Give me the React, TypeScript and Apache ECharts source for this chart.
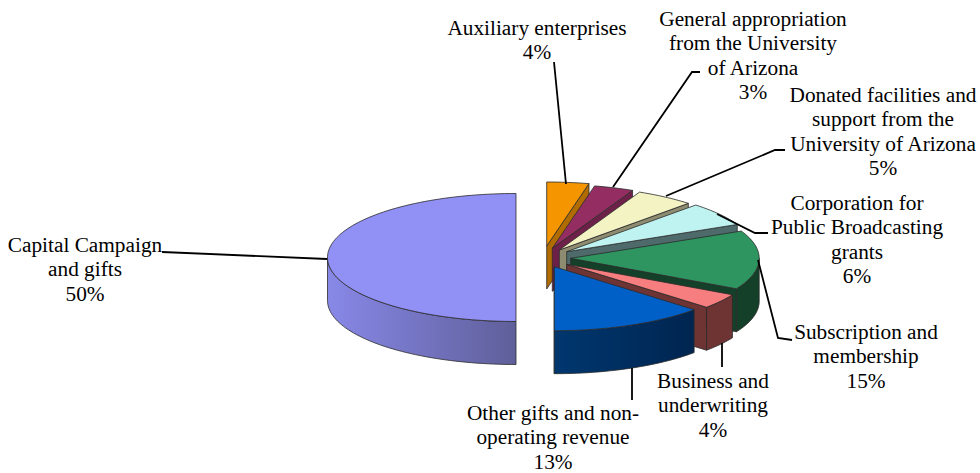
import React, { useEffect, useRef } from "react";
import * as echarts from "echarts";

const categoryLines = [
  ["Auxiliary enterprises"],
  ["General appropriation", "from the University", "of Arizona"],
  ["Donated facilities and", "support from the", "University of Arizona"],
  ["Corporation for", "Public Broadcasting", "grants"],
  ["Subscription and", "membership"],
  ["Business and", "underwriting"],
  ["Other gifts and non-", "operating revenue"],
  ["Capital Campaign", "and gifts"],
];
const shares = [3.6, 3.4, 5, 6, 14.9, 3.8, 13.3, 50];

const topColors = ["#f59500", "#942e62", "#f3f3c4", "#bff3f1", "#2e9460", "#f67e7e", "#0060c8", "#9090f5"];
const sideColors = ["#b06c00", "#6e2148", "#8e8c70", "#4f6a6a", "#143f29", "#6e3333", "#00376f", "#8888e8"];
const sideEndColors = ["#b06c00", "#6e2148", "#8e8c70", "#4f6a6a", "#143f29", "#6e3333", "#002550", "#5f5f9a"];

const apexes = [
  [546.7, 246], [552.3, 248.3], [559.3, 250], [566.7, 251.7],
  [570.7, 258.3], [566.7, 264.3], [554.3, 266.7], [516, 257.5],
];
const RX = 188.5;
const RY = 64;
const DEPTH = 43;

const labelCenters = [537, 753, 883, 857, 866, 713, 553, 85];
const labelTops = [28, 19, 95, 203, 332, 381, 413, 245];
const LINE_H = 24.4;

const leaders = [
  [[554, 62], [566, 184]],
  [[700, 72], [692, 72], [613, 187]],
  [[785, 150], [775, 150], [666, 196]],
  [[768, 233], [755, 233], [717, 214]],
  [[792, 340], [778, 338], [758, 260]],
  [[722, 343], [722, 367]],
  [[632, 368], [632, 400]],
  [[162, 252], [327, 259]],
];

const FONT = '"Liberation Serif", "Times New Roman", serif';

function arc(ax: number, ay: number, a0: number, a1: number, dy = 0) {
  const n = Math.max(2, Math.ceil(Math.abs(a1 - a0) / 0.03));
  const pts: number[][] = [];
  for (let i = 0; i <= n; i++) {
    const t = a0 + ((a1 - a0) * i) / n;
    pts.push([ax + RX * Math.sin(t), ay - RY * Math.cos(t) + dy]);
  }
  return pts;
}

export default function App() {
  const ref = useRef<HTMLDivElement>(null);
  useEffect(() => {
    document.body.style.margin = "0";
    const chart = echarts.init(ref.current!, null, { renderer: "svg" });
    const total = shares.reduce((a, b) => a + b, 0);
    const starts: number[] = [];
    let acc = 0;
    shares.forEach((v) => {
      starts.push(acc);
      acc += v;
    });
    const edge = { stroke: "#2b2b2b", lineWidth: 0.8 };

    const renderItem = (params: any, api: any) => {
      const i = params.dataIndex;
      const v = api.value(0);
      const a0 = (starts[i] / total) * Math.PI * 2;
      const a1 = a0 + (v / total) * Math.PI * 2;
      const [ax, ay] = apexes[i];
      const children: any[] = [];
      // radial cut face at the clockwise end, visible on the right half
      if (a1 > 0 && a1 < Math.PI) {
        const ex = ax + RX * Math.sin(a1);
        const ey = ay - RY * Math.cos(a1);
        children.push({
          type: "polygon",
          shape: { points: [[ax, ay], [ex, ey], [ex, ey + DEPTH], [ax, ay + DEPTH]] },
          style: { fill: sideColors[i], ...edge },
        });
      }
      // outer rim, visible on the front half
      const r0 = Math.max(a0, Math.PI / 2);
      const r1 = Math.min(a1, (Math.PI * 3) / 2);
      if (r1 > r0) {
        const top = arc(ax, ay, r0, r1);
        const bottom = arc(ax, ay, r0, r1, DEPTH).reverse();
        children.push({
          type: "polygon",
          shape: { points: [...top, ...bottom] },
          style: {
            fill: {
              type: "linear", x: 0, y: 0, x2: 1, y2: 0,
              colorStops: [
                { offset: 0, color: sideColors[i] },
                { offset: 1, color: sideEndColors[i] },
              ],
            },
            ...edge,
          },
        });
      }
      // top face
      children.push({
        type: "polygon",
        shape: { points: [[ax, ay], ...arc(ax, ay, a0, a1)] },
        style: { fill: topColors[i], ...edge },
      });
      return { type: "group", children };
    };

    const textEls: any[] = [];
    categoryLines.forEach((lines, i) => {
      const all = [...lines, `${Math.round(shares[i])}%`];
      all.forEach((line, k) => {
        textEls.push({
          type: "text",
          x: labelCenters[i],
          y: labelTops[i] + k * LINE_H,
          style: { text: line, font: `21.3px ${FONT}`, fill: "#000", align: "center", verticalAlign: "middle" },
        });
      });
    });
    const lineEls = leaders.map((points) => ({
      type: "polyline",
      shape: { points },
      style: { stroke: "#000", lineWidth: 1.8, fill: "none" },
      z: 10,
    }));

    chart.setOption({
      animation: false,
      backgroundColor: "#fff",
      series: [
        {
          type: "custom",
          coordinateSystem: "none",
          silent: true,
          renderItem,
          data: shares.map((v) => [v]),
        },
      ],
      graphic: [...textEls, ...lineEls],
    });
    return () => chart.dispose();
  }, []);
  return <div ref={ref} style={{ width: 980, height: 473 }} />;
}
